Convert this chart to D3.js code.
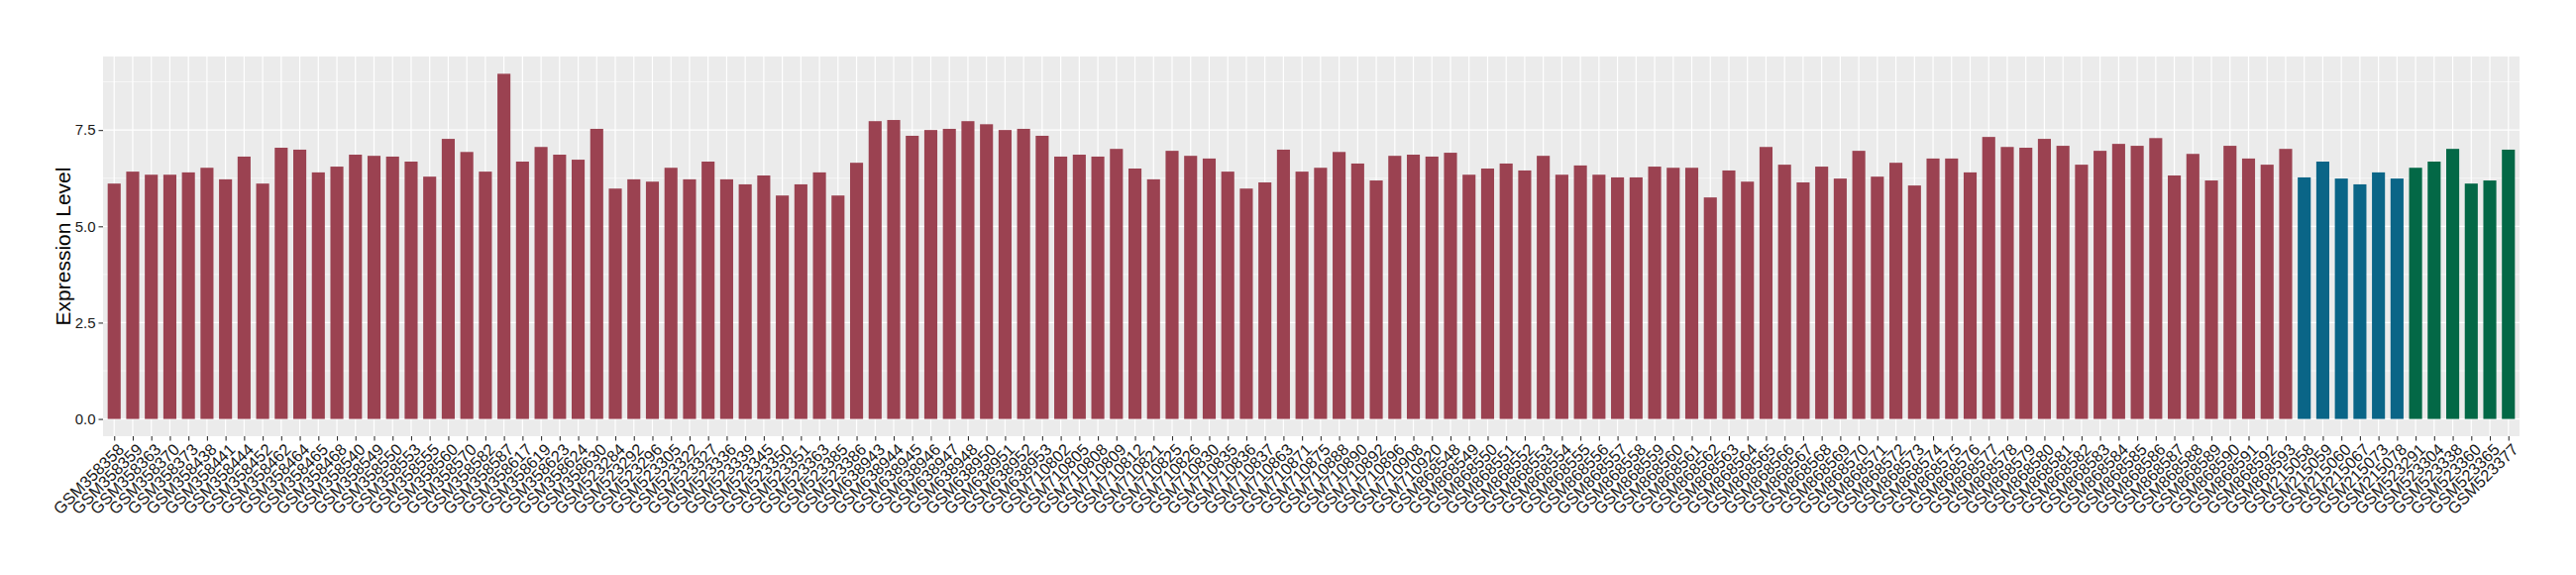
<!DOCTYPE html>
<html>
<head>
<meta charset="utf-8">
<script src="https://cdn.jsdelivr.net/npm/d3@7"></script>
<style>
  body { margin: 0; background: #fff; }
  text { font-family: "Liberation Sans", Arial, sans-serif; }
</style>
</head>
<body>
<div id="chart"></div>
<script>
// samples, in plotting order
let samples = [
  "GSM358358","GSM358359","GSM358363","GSM358370","GSM358373","GSM358438","GSM358441","GSM358444",
  "GSM358452","GSM358462","GSM358464","GSM358465","GSM358468","GSM358540","GSM358549","GSM358550",
  "GSM358553","GSM358555","GSM358560","GSM358570","GSM358582","GSM358587","GSM358617","GSM358619",
  "GSM358623","GSM358624","GSM358630","GSM523284","GSM523292","GSM523296","GSM523305","GSM523322",
  "GSM523327","GSM523336","GSM523339","GSM523345","GSM523350","GSM523351","GSM523363","GSM523385",
  "GSM523386","GSM638943","GSM638944","GSM638945","GSM638946","GSM638947","GSM638948","GSM638950",
  "GSM638951","GSM638952","GSM638953","GSM710802","GSM710805","GSM710808","GSM710809","GSM710812",
  "GSM710821","GSM710825","GSM710826","GSM710830","GSM710835","GSM710836","GSM710837","GSM710863",
  "GSM710871","GSM710875","GSM710888","GSM710890","GSM710892","GSM710896","GSM710908","GSM710920",
  "GSM868548","GSM868549","GSM868550","GSM868551","GSM868552","GSM868553","GSM868554","GSM868555",
  "GSM868556","GSM868557","GSM868558","GSM868559","GSM868560","GSM868561","GSM868562","GSM868563",
  "GSM868564","GSM868565","GSM868566","GSM868567","GSM868568","GSM868569","GSM868570","GSM868571",
  "GSM868572","GSM868573","GSM868574","GSM868575","GSM868576","GSM868577","GSM868578","GSM868579",
  "GSM868580","GSM868581","GSM868582","GSM868583","GSM868584","GSM868585","GSM868586","GSM868587",
  "GSM868588","GSM868589","GSM868590","GSM868591","GSM868592","GSM868593","GSM215058","GSM215059",
  "GSM215060","GSM215067","GSM215073","GSM215078","GSM523291","GSM523304","GSM523338","GSM523360",
  "GSM523365","GSM523377"
];

// expression values
let values = [
  6.11,6.42,6.34,6.34,6.40,6.52,6.22,6.81,6.11,7.04,6.99,6.40,6.55,6.86,6.83,6.81,
  6.68,6.29,7.27,6.93,6.42,8.96,6.68,7.06,6.86,6.73,7.53,5.98,6.22,6.16,6.52,6.22,
  6.68,6.22,6.09,6.32,5.80,6.09,6.40,5.80,6.65,7.73,7.76,7.35,7.50,7.53,7.73,7.65,
  7.50,7.53,7.35,6.81,6.86,6.81,7.01,6.50,6.22,6.96,6.83,6.76,6.42,5.98,6.14,6.99,
  6.42,6.52,6.93,6.63,6.19,6.83,6.86,6.81,6.91,6.34,6.50,6.63,6.45,6.83,6.34,6.58,
  6.34,6.27,6.27,6.55,6.52,6.52,5.75,6.45,6.16,7.06,6.60,6.14,6.55,6.24,6.96,6.29,
  6.65,6.06,6.76,6.76,6.40,7.32,7.06,7.04,7.27,7.09,6.60,6.96,7.14,7.09,7.29,6.32,
  6.88,6.19,7.09,6.76,6.60,7.01,6.27,6.68,6.24,6.09,6.40,6.24,6.52,6.68,7.01,6.11,
  6.19,6.99
];

// group of each sample (118 / 6 / 6)
let groups = [].concat(
  Array(118).fill("g1"),
  Array(6).fill("g2"),
  Array(6).fill("g3")
);
let groupNames = ["g1", "g2", "g3"];
let groupColors = ["#9b4251", "#0a6587", "#036846"];

let yTicks = [0, 2.5, 5, 7.5];
let yMinorTicks = [1.25, 3.75, 6.25, 8.75];

function getConfig() {
  let width = 2600;
  let height = 580;
  let margin = { top: 57, bottom: 140, left: 104, right: 57 };
  let bodyWidth = width - margin.left - margin.right;
  let bodyHeight = height - margin.top - margin.bottom;
  let container = d3.select("#chart").append("svg")
    .attr("width", width)
    .attr("height", height);
  return { width, height, margin, bodyWidth, bodyHeight, container };
}

function getScales(config) {
  let { bodyWidth, bodyHeight } = config;
  let maxValue = d3.max(values);
  let pad = maxValue * 0.05;

  // ggplot style discrete scale: 0.6 step on each side
  let xScale = d3.scalePoint()
    .domain(samples)
    .range([0, bodyWidth])
    .padding(0.6);

  let yScale = d3.scaleLinear()
    .domain([-pad, maxValue + pad])
    .range([bodyHeight, 0]);

  let colorScale = d3.scaleOrdinal()
    .domain(groupNames)
    .range(groupColors);

  return { xScale, yScale, colorScale };
}

function drawChart() {
  let config = getConfig();
  let { margin, container, bodyWidth, bodyHeight } = config;
  let { xScale, yScale, colorScale } = getScales(config);

  let body = container.append("g")
    .attr("transform", "translate(" + margin.left + "," + margin.top + ")");

  // panel background
  body.append("rect")
    .attr("width", bodyWidth)
    .attr("height", bodyHeight)
    .attr("fill", "#ebebeb");

  // minor grid
  body.selectAll(".minor")
    .data(yMinorTicks)
    .enter().append("line")
    .attr("x1", 0).attr("x2", bodyWidth)
    .attr("y1", d => yScale(d)).attr("y2", d => yScale(d))
    .attr("stroke", "#fff").attr("stroke-width", 0.6);

  // major grid
  body.selectAll(".majorY")
    .data(yTicks)
    .enter().append("line")
    .attr("x1", 0).attr("x2", bodyWidth)
    .attr("y1", d => yScale(d)).attr("y2", d => yScale(d))
    .attr("stroke", "#fff").attr("stroke-width", 1.2);

  body.selectAll(".majorX")
    .data(samples)
    .enter().append("line")
    .attr("x1", d => xScale(d)).attr("x2", d => xScale(d))
    .attr("y1", 0).attr("y2", bodyHeight)
    .attr("stroke", "#fff").attr("stroke-width", 1.2);

  // bars
  let barWidth = xScale.step() * 0.7;
  body.selectAll(".bar")
    .data(samples)
    .enter().append("rect")
    .attr("class", "bar")
    .attr("x", d => xScale(d) - barWidth / 2)
    .attr("width", barWidth)
    .attr("y", (d, i) => yScale(values[i]))
    .attr("height", (d, i) => yScale(0) - yScale(values[i]))
    .attr("fill", (d, i) => colorScale(groups[i]));

  // y axis
  let yAxis = body.append("g")
    .call(d3.axisLeft(yScale).tickValues(yTicks).tickFormat(d3.format(".1f")).tickSize(4.5).tickPadding(3));
  yAxis.select(".domain").remove();
  yAxis.selectAll("line").attr("stroke", "#333").attr("stroke-width", 1.1);
  yAxis.selectAll("text")
    .attr("fill", "#1a1a1a")
    .style("font-size", "15px");

  // x axis
  let xAxis = body.append("g")
    .attr("transform", "translate(0," + bodyHeight + ")")
    .call(d3.axisBottom(xScale).tickSize(4.5).tickPadding(0));
  xAxis.select(".domain").remove();
  xAxis.selectAll("line").attr("stroke", "#333").attr("stroke-width", 1.1);
  xAxis.selectAll("text")
    .attr("fill", "#1a1a1a")
    .style("font-size", "16.5px")
    .style("text-anchor", "end")
    .attr("y", 0)
    .attr("dy", "0.72em")
    .attr("transform", "translate(2,6)rotate(-45)");

  // y axis title
  container.append("text")
    .attr("transform", "translate(71," + (margin.top + bodyHeight / 2) + ")rotate(-90)")
    .attr("text-anchor", "middle")
    .style("font-size", "21px")
    .attr("fill", "#000")
    .text("Expression Level");
}

drawChart();
</script>
</body>
</html>
